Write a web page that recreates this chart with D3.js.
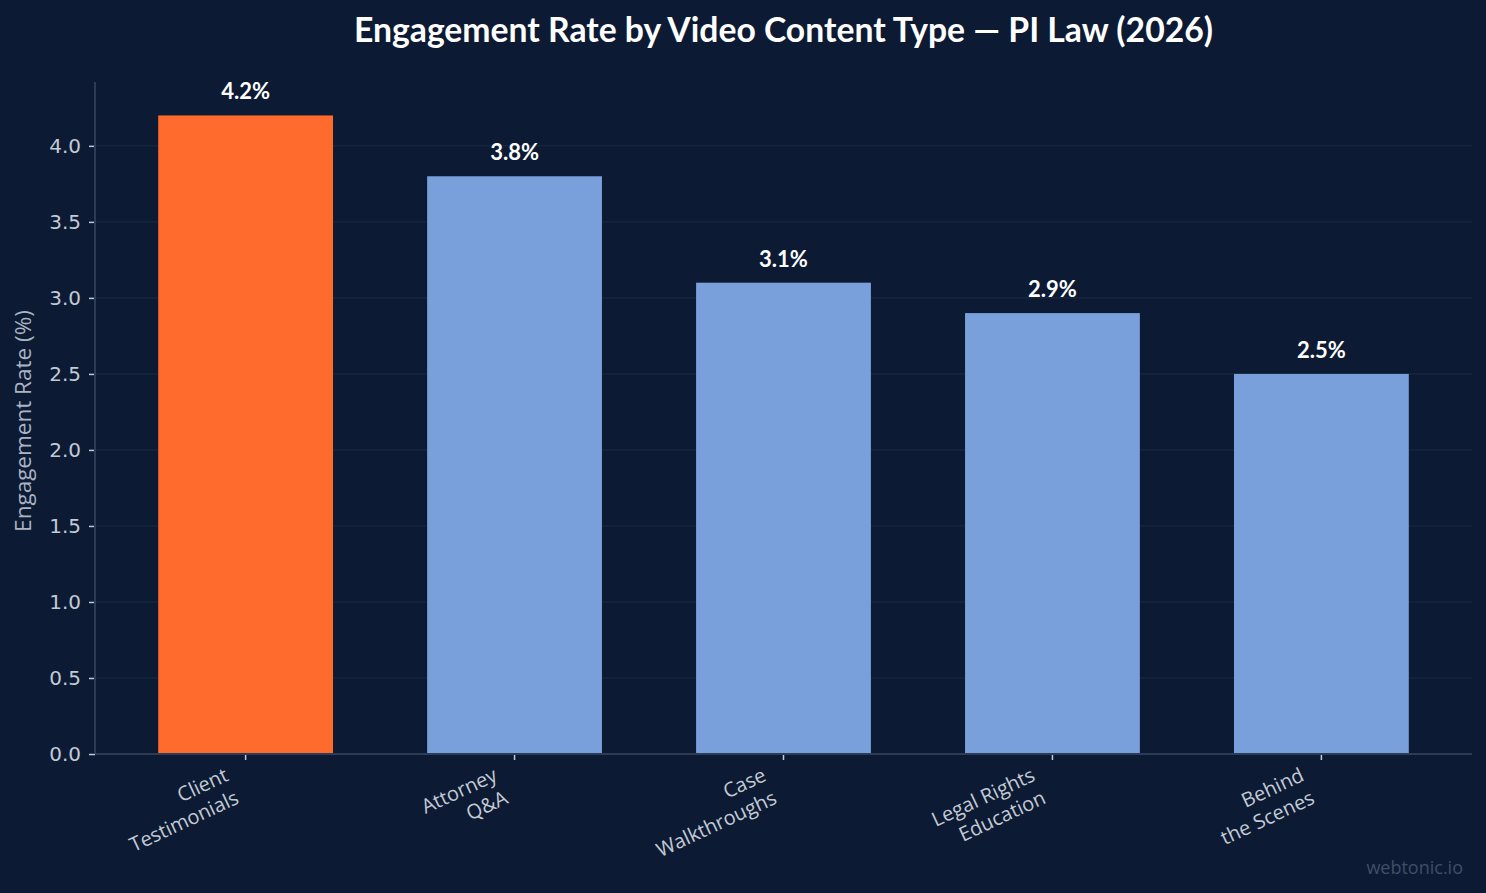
<!DOCTYPE html>
<html>
<head>
<meta charset="utf-8">
<script src="https://cdn.jsdelivr.net/npm/d3@7"></script>
<style>
  html, body { margin: 0; padding: 0; background: #0c1b33; }
  svg { display: block; }
</style>
</head>
<body>
<div id="chart"></div>
<script>
// Chart data
const categories = [
  ["Client", "Testimonials"],
  ["Attorney", "Q&A"],
  ["Case", "Walkthroughs"],
  ["Legal Rights", "Education"],
  ["Behind", "the Scenes"]
];
const rates = [4.2, 3.8, 3.1, 2.9, 2.5];
const yTicks = [0, 0.5, 1, 1.5, 2, 2.5, 3, 3.5, 4];
const highlightIndex = 0;

const WIDTH = 1486;
const HEIGHT = 893;
const MARGIN = { left: 95, right: 14, top: 82, bottom: 139 };
const CHART_WIDTH = WIDTH - MARGIN.left - MARGIN.right;
const CHART_HEIGHT = HEIGHT - MARGIN.top - MARGIN.bottom;

const BG = "#0c1b33";
const ORANGE = "#ff6b2c";
const BLUE = "#7aa0dc";
const SPINE = "#2c3b56";
const GRID = "#1c2b45";
const TICK_TEXT = "#c3cad5";

const svg = d3
  .select("#chart")
  .append("svg")
  .attr("width", WIDTH)
  .attr("height", HEIGHT)
  .style("background", BG);

const g = svg.append("g").attr("transform", `translate(${MARGIN.left}, ${MARGIN.top})`);

// scales
const xScale = d3
  .scaleBand()
  .domain(d3.range(rates.length))
  .range([0, CHART_WIDTH])
  .paddingInner(0.35)
  .paddingOuter(0.235);

const yScale = d3.scaleLinear().domain([0, 4.42]).range([CHART_HEIGHT, 0]);

// gridlines
g.append("g")
  .selectAll("line")
  .data(yTicks)
  .enter()
  .append("line")
  .attr("x1", 0)
  .attr("x2", CHART_WIDTH)
  .attr("y1", (d) => yScale(d))
  .attr("y2", (d) => yScale(d))
  .attr("stroke", GRID)
  .attr("stroke-width", 1);

// bars
g.selectAll("rect.bar")
  .data(rates)
  .enter()
  .append("rect")
  .attr("class", "bar")
  .attr("x", (d, i) => xScale(i))
  .attr("y", (d) => yScale(d))
  .attr("width", xScale.bandwidth())
  .attr("height", (d) => CHART_HEIGHT - yScale(d))
  .attr("fill", (d, i) => (i === highlightIndex ? ORANGE : BLUE));

// value labels
g.selectAll("text.value")
  .data(rates)
  .enter()
  .append("text")
  .attr("class", "value")
  .attr("x", (d, i) => xScale(i) + xScale.bandwidth() / 2)
  .attr("y", (d) => yScale(d) - 16)
  .attr("text-anchor", "middle")
  .attr("font-family", "Lato, sans-serif")
  .attr("font-weight", "bold")
  .attr("font-size", 22)
  .attr("fill", "#ffffff")
  .text((d) => `${d.toFixed(1)}%`);

// y axis
const yAxis = g
  .append("g")
  .attr("class", "y-axis")
  .call(d3.axisLeft(yScale).tickValues(yTicks).tickFormat(d3.format(".1f")).tickSize(6).tickPadding(8));
yAxis.select(".domain").remove();
yAxis.selectAll("line").attr("stroke", TICK_TEXT).attr("stroke-width", 1.5);
yAxis
  .selectAll("text")
  .attr("fill", TICK_TEXT)
  .attr("font-family", "DejaVu Sans, sans-serif")
  .attr("font-size", 20);

// x axis
const xAxis = g
  .append("g")
  .attr("class", "x-axis")
  .attr("transform", `translate(0, ${CHART_HEIGHT})`)
  .call(d3.axisBottom(xScale).tickSize(6).tickFormat(""));
xAxis.select(".domain").remove();
xAxis.selectAll("line").attr("stroke", TICK_TEXT).attr("stroke-width", 1.5);

// category labels, rotated, right aligned to the tick
xAxis
  .selectAll(".tick")
  .append("text")
  .attr("transform", "translate(-16, 26) rotate(-25)")
  .attr("text-anchor", "end")
  .attr("fill", TICK_TEXT)
  .attr("font-family", "Open Sans, sans-serif")
  .attr("font-size", 20)
  .each(function (i) {
    const t = d3.select(this);
    categories[i].forEach((line, k) => {
      t.append("tspan")
        .attr("x", 0)
        .attr("dy", k === 0 ? 0 : 25)
        .text(line);
    });
  });

// spines
g.append("line")
  .attr("x1", 0).attr("x2", 0)
  .attr("y1", 0).attr("y2", CHART_HEIGHT)
  .attr("stroke", SPINE).attr("stroke-width", 2);
g.append("line")
  .attr("x1", 0).attr("x2", CHART_WIDTH)
  .attr("y1", CHART_HEIGHT).attr("y2", CHART_HEIGHT)
  .attr("stroke", SPINE).attr("stroke-width", 2);

// y axis title
svg.append("text")
  .attr("transform", `translate(31, ${MARGIN.top + CHART_HEIGHT / 2 + 3}) rotate(-90)`)
  .attr("text-anchor", "middle")
  .attr("fill", "#aab4c4")
  .attr("font-family", "Open Sans, sans-serif")
  .attr("font-size", 22.5)
  .text("Engagement Rate (%)");

// title
svg.append("text")
  .attr("x", MARGIN.left + CHART_WIDTH / 2)
  .attr("y", 42)
  .attr("text-anchor", "middle")
  .attr("fill", "#ffffff")
  .attr("font-family", "Lato, sans-serif")
  .attr("font-weight", "bold")
  .attr("font-size", 33.7)
  .text("Engagement Rate by Video Content Type — PI Law (2026)");

// watermark
svg.append("text")
  .attr("x", 1463)
  .attr("y", 874)
  .attr("text-anchor", "end")
  .attr("fill", "#3f4e68")
  .attr("font-family", "Open Sans, sans-serif")
  .attr("font-size", 18)
  .text("webtonic.io");
</script>
</body>
</html>
